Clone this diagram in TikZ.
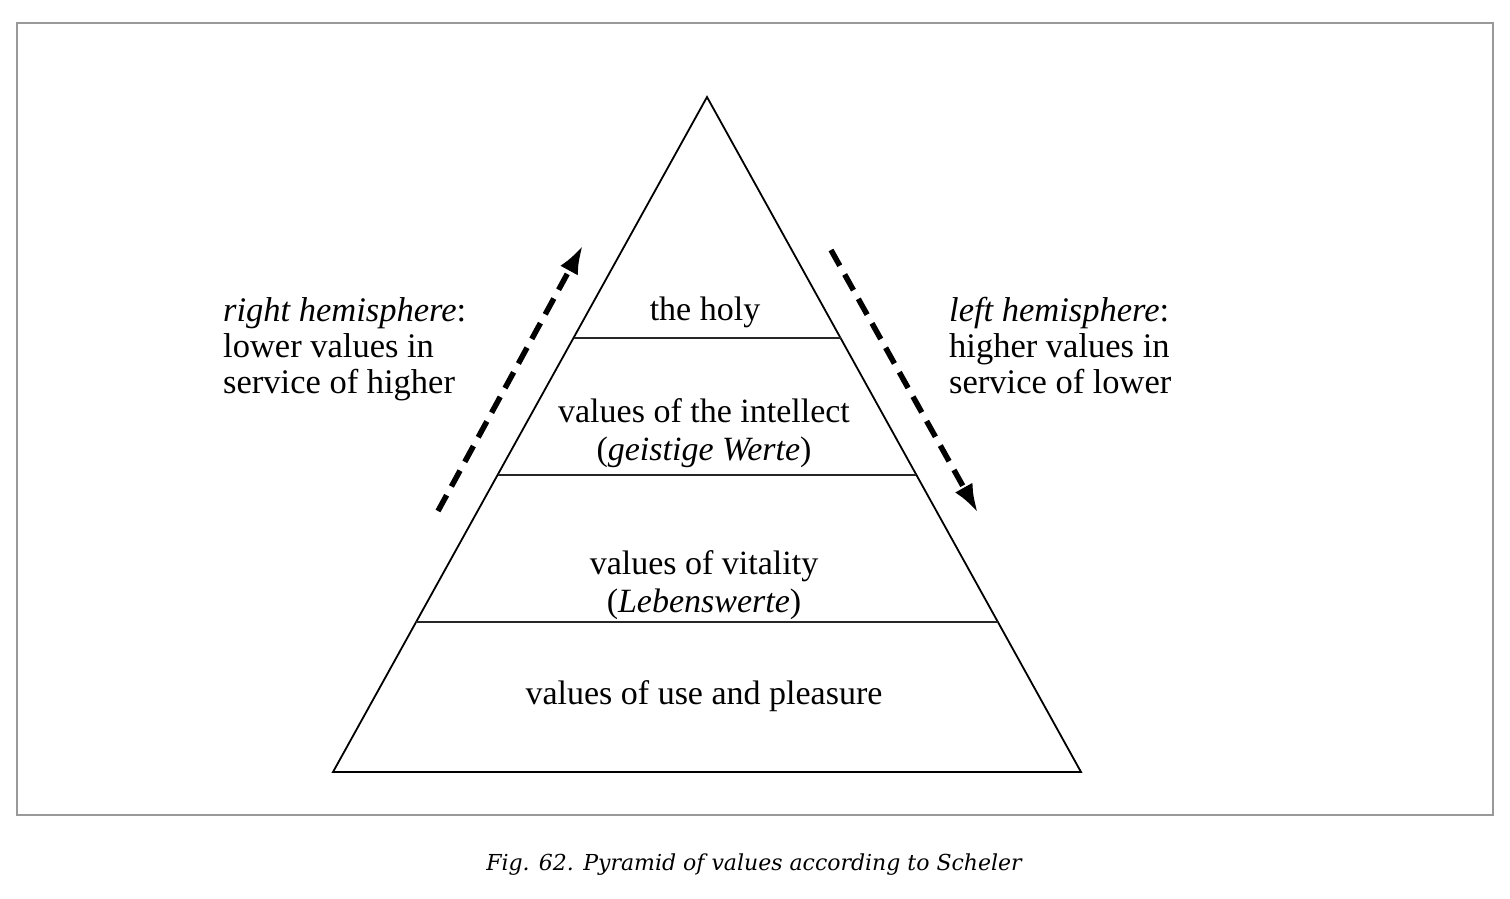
\documentclass[tikz,border=0pt]{standalone}
\usepackage{fontspec}
\setmainfont{Liberation Serif}
\newfontfamily\capfont{DejaVu Serif}
\usetikzlibrary{arrows.meta}
\begin{document}
\begin{tikzpicture}[x=1pt,y=-1pt,
  lbl/.style={font=\fontsize{34}{38.5}\selectfont, align=center, inner sep=0pt},
  side/.style={font=\fontsize{34.5}{36}\selectfont, align=left, inner sep=0pt, anchor=west},
  edge/.style={line width=1.8pt, black},
  layer/.style={line width=1.6pt, black!85},
  flow/.style={line width=5.5pt, dash pattern=on 18pt off 10pt, -{Latex[length=29pt,width=20pt]}},
  frame/.style={line width=2pt, black!40}]
\useasboundingbox (0,0) rectangle (1510,898);
\draw[frame] (16.5,23) rectangle (1493,815);
% pyramid
\coordinate (apex) at (707,97);
\coordinate (bl) at (333,772);
\coordinate (br) at (1081,772);
\coordinate (l1) at (573.5,338); \coordinate (r1) at (840.5,338);
\coordinate (l2) at (497.6,475); \coordinate (r2) at (916.4,475);
\coordinate (l3) at (416.1,622); \coordinate (r3) at (997.9,622);
\draw[edge, line join=miter] (apex) -- (bl) -- (br) -- cycle;
\draw[layer] (l1) -- (r1);
\draw[layer] (l2) -- (r2);
\draw[layer] (l3) -- (r3);
% labels
\node[lbl] (holy) at (705,312) {the holy};
\node[lbl] (intellect) at (704,433) {values of the intellect\\(\textit{geistige Werte})};
\node[lbl] (vital) at (704,585) {values of vitality\\(\textit{Lebenswerte})};
\node[lbl] (use) at (704,696) {values of use and pleasure};
\node[side] (lefttxt) at (223,349) {\textit{right hemisphere}:\\lower values in\\service of higher};
\node[side] (righttxt) at (949,349) {\textit{left hemisphere}:\\higher values in\\service of lower\vphantom{g}};
% arrows
\coordinate (ua) at (438,511);
\coordinate (ub) at (583,245);
\coordinate (da) at (831,250);
\coordinate (db) at (978,513);
\draw[flow] (ua) -- (ub);
\draw[flow] (da) -- (db);
% caption
\node[font=\capfont\itshape\fontsize{22}{26}\selectfont, inner sep=0pt] (cap) at (754,865) {Fig. 62. Pyramid of values according to Scheler};
\end{tikzpicture}
\end{document}
